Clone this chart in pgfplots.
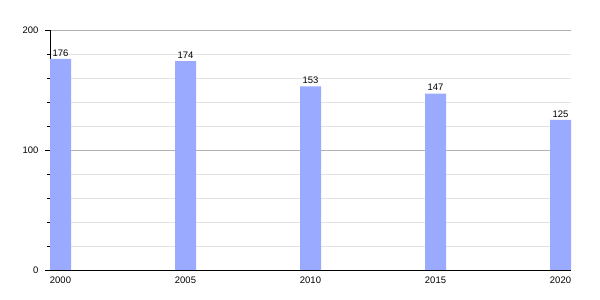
\documentclass[border=0pt]{standalone}
\usepackage{pgfplots}
\pgfplotsset{compat=1.18}
\usepackage{fontspec}
\setmainfont{Liberation Sans}
\definecolor{barblue}{RGB}{153,170,255}
\begin{document}
\begin{tikzpicture}
\path[use as bounding box] (-50bp,-30bp) rectangle (550bp,270bp);
\begin{axis}[
  at={(0,0)}, anchor=south west,
  scale only axis, width=521bp, height=240bp,
  xmin=1999.58, xmax=2020.42,
  ymin=0, ymax=200,
  axis lines=left, axis line style={-, black},
  xtick={2000,2005,2010,2015,2020},
  xticklabels={2000,2005,2010,2015,2020},
  ytick={0,100,200},
  minor y tick num=4,
  tick align=outside,
  major tick length=5bp, minor tick length=3bp,
  x tick style={draw=none},
  y tick style={black},
  ymajorgrids, yminorgrids,
  major grid style={gray!60, line width=0.6pt},
  minor grid style={gray!22, line width=0.6pt},
  /pgf/number format/assume math mode=true,
  tick label style={font=\fontsize{9.5}{11}\selectfont},
  yticklabel style={xshift=-3bp},
  xticklabel style={yshift=2bp},
  nodes near coords,
  every node near coord/.append style={font=\fontsize{9.5}{11}\selectfont, inner sep=2.5bp},
]
\addplot[ybar, bar width=21bp, fill=barblue, draw=none] coordinates {
  (2000,176) (2005,174) (2010,153) (2015,147) (2020,125)
};
\end{axis}
\end{tikzpicture}
\end{document}
